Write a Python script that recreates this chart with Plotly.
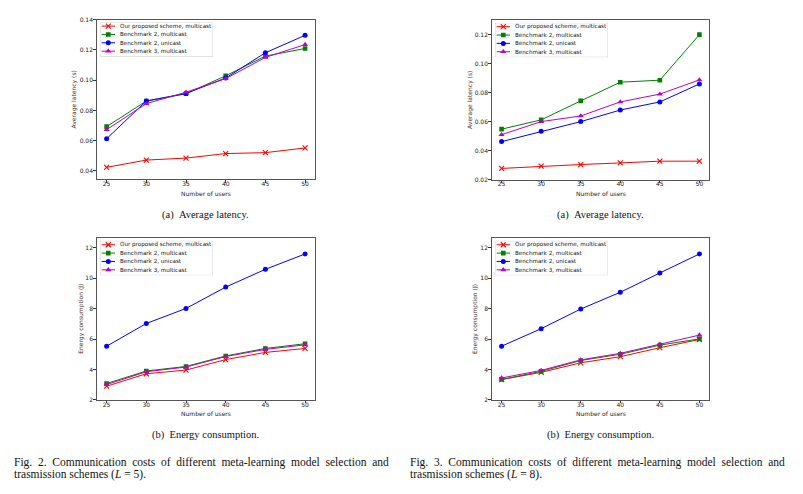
import plotly.graph_objects as go

W, H = 803, 494
OX, OY = 8.0, 8.0  # page body margin of the html output

users = [25, 30, 35, 40, 45, 50]
series_names = ["Our proposed scheme, multicast", "Benchmark 2, multicast",
                "Benchmark 2, unicast", "Benchmark 3, multicast"]

# Fig. 2 (L = 5)
lat5_proposed = [0.0424, 0.0472, 0.0485, 0.0515, 0.0521, 0.0552]
lat5_b2_multi = [0.0693, 0.0862, 0.0910, 0.1029, 0.1159, 0.1209]
lat5_b2_uni = [0.0613, 0.0862, 0.0912, 0.1014, 0.1181, 0.1296]
lat5_b3_multi = [0.0673, 0.0845, 0.0920, 0.1010, 0.1150, 0.1235]

en5_proposed = [2.90, 3.72, 3.96, 4.65, 5.12, 5.38]
en5_b2_multi = [3.08, 3.90, 4.20, 4.89, 5.38, 5.69]
en5_b2_uni = [5.53, 7.02, 8.01, 9.41, 10.58, 11.59]
en5_b3_multi = [3.01, 3.85, 4.16, 4.85, 5.32, 5.62]

# Fig. 3 (L = 8)
lat8_proposed = [0.0277, 0.0293, 0.0304, 0.0315, 0.0327, 0.0327]
lat8_b2_multi = [0.0548, 0.0612, 0.0743, 0.0872, 0.0886, 0.1200]
lat8_b2_uni = [0.0462, 0.0533, 0.0600, 0.0680, 0.0736, 0.0860]
lat8_b3_multi = [0.0510, 0.0600, 0.0639, 0.0736, 0.0790, 0.0888]

en8_proposed = [3.34, 3.81, 4.44, 4.84, 5.43, 5.97]
en8_b2_multi = [3.34, 3.875, 4.59, 5.00, 5.60, 6.01]
en8_b2_uni = [5.53, 6.68, 7.97, 9.07, 10.34, 11.59]
en8_b3_multi = [3.44, 3.94, 4.63, 5.06, 5.66, 6.26]

lat_ticks_5 = [0.04, 0.06, 0.08, 0.10, 0.12, 0.14]
lat_ticks_8 = [0.02, 0.04, 0.06, 0.08, 0.10, 0.12]
en_ticks = [2, 4, 6, 8, 10, 12]

colors = ["#ff0000", "#008000", "#0000ff", "#bf00bf"]
symbols = ["x-thin", "square", "circle", "triangle-up"]
msizes = [5, 4.6, 5, 5.4]

FONT = "DejaVu Sans"
SERIF = "Liberation Serif"


def fx(x):
    return (x - OX) / W


def fy(y):
    return 1 - (y - OY) / H


panels = [
    dict(data=[lat5_proposed, lat5_b2_multi, lat5_b2_uni, lat5_b3_multi],
         box=(96.7, 315.0, 15.7, 177.7), yr=[0.0345, 0.14], ticks=lat_ticks_5,
         fmt=".2f", ytitle="Average latency (s)", ytx=74.0),
    dict(data=[lat8_proposed, lat8_b2_multi, lat8_b2_uni, lat8_b3_multi],
         box=(491.7, 709.3, 16.3, 178.0), yr=[0.02, 0.13], ticks=lat_ticks_8,
         fmt=".2f", ytitle="Average latency (s)", ytx=470.0),
    dict(data=[en5_proposed, en5_b2_multi, en5_b2_uni, en5_b3_multi],
         box=(96.7, 315.0, 237.5, 401.5), yr=[2, 12.62], ticks=en_ticks,
         fmt="d", ytitle="Energy consumption (J)", ytx=80.7),
    dict(data=[en8_proposed, en8_b2_multi, en8_b2_uni, en8_b3_multi],
         box=(491.7, 709.3, 237.5, 401.5), yr=[2, 12.62], ticks=en_ticks,
         fmt="d", ytitle="Energy consumption (J)", ytx=475.0),
]

fig = go.Figure()
layout = dict(width=W, height=H, autosize=False,
              margin=dict(l=0, r=0, t=0, b=0),
              paper_bgcolor="white", plot_bgcolor="white",
              showlegend=False, font=dict(family=FONT, size=6, color="#222"))
annotations = []
shapes = []

LEG_W, LEG_H = 113.0, 35.0

for i, p in enumerate(panels):
    k = i + 1
    l, r, t, b = p["box"]
    xa = "xaxis" if k == 1 else f"xaxis{k}"
    ya = "yaxis" if k == 1 else f"yaxis{k}"
    xr = "x" if k == 1 else f"x{k}"
    yr = "y" if k == 1 else f"y{k}"
    layout[xa] = dict(domain=[fx(l), fx(r)], anchor=yr, range=[23.75, 51.25],
                      tickvals=users, ticks="outside", ticklen=2.5, tickwidth=0.8,
                      tickcolor="#333", showline=True, mirror=True, linecolor="#555",
                      linewidth=1, showgrid=False, zeroline=False,
                      ticklabelstandoff=-4,
                      tickfont=dict(family=FONT, size=6, color="#222"))
    layout[ya] = dict(domain=[fy(b), fy(t)], anchor=xr, range=p["yr"],
                      tickvals=p["ticks"], tickformat=p["fmt"], ticks="outside",
                      ticklen=2.5, tickwidth=0.8, tickcolor="#333", showline=True,
                      mirror=True, linecolor="#555", linewidth=1, showgrid=False,
                      zeroline=False, ticklabelstandoff=-1,
                      tickfont=dict(family=FONT, size=6, color="#222"))
    for j, ys in enumerate(p["data"]):
        fig.add_trace(go.Scatter(
            x=users, y=ys, xaxis=xr, yaxis=yr, mode="lines+markers",
            name=series_names[j],
            line=dict(color=colors[j], width=1),
            marker=dict(symbol=symbols[j], size=msizes[j], color=colors[j],
                        line=dict(color=colors[j], width=1.1 if j == 0 else 0))))
    # axis titles
    annotations.append(dict(text="Number of users", xref="paper", yref="paper",
                            x=fx((l + r) / 2), y=fy(b + 14.0),
                            xanchor="center", yanchor="middle", showarrow=False,
                            font=dict(family=FONT, size=6, color="#222")))
    annotations.append(dict(text=p["ytitle"], xref="paper", yref="paper",
                            x=fx(p["ytx"]), y=fy((t + b) / 2), textangle=-90,
                            xanchor="center", yanchor="middle", showarrow=False,
                            font=dict(family=FONT, size=6, color="#4d3322")))
    # legend drawn in an overlay axis covering the legend box
    lk = k + 4
    lxa, lya = f"xaxis{lk}", f"yaxis{lk}"
    lxr, lyr = f"x{lk}", f"y{lk}"
    bl, bt = l + 3.3, t + 2.6
    layout[lxa] = dict(domain=[fx(bl), fx(bl + LEG_W)], anchor=lyr,
                       range=[0, LEG_W], visible=False, fixedrange=True)
    layout[lya] = dict(domain=[fy(bt + LEG_H), fy(bt)], anchor=lxr,
                       range=[LEG_H, 0], visible=False, fixedrange=True)
    shapes.append(dict(type="rect", xref=lxr, yref=lyr, x0=0, x1=LEG_W,
                       y0=0, y1=LEG_H, line=dict(color="#d4d4d4", width=1),
                       fillcolor="white", layer="below"))
    for j in range(4):
        yy = 4.0 + 8.47 * j
        fig.add_trace(go.Scatter(x=[1.7, 15.0], y=[yy, yy], xaxis=lxr, yaxis=lyr,
                                 mode="lines", line=dict(color=colors[j], width=1),
                                 hoverinfo="skip"))
        fig.add_trace(go.Scatter(x=[8.3], y=[yy], xaxis=lxr, yaxis=lyr,
                                 mode="markers", hoverinfo="skip",
                                 marker=dict(symbol=symbols[j], size=msizes[j],
                                             color=colors[j],
                                             line=dict(color=colors[j],
                                                       width=1.1 if j == 0 else 0))))
        annotations.append(dict(text=series_names[j], xref=lxr, yref=lyr,
                                x=18.3, y=yy, xanchor="left", yanchor="middle",
                                showarrow=False,
                                font=dict(family=FONT, size=5.6, color="#111")))


# sub-figure and figure captions
def cap(text, x, y, anchor="center", size=11.5):
    annotations.append(dict(text=text, xref="paper", yref="paper", x=fx(x),
                            y=fy(y), xanchor=anchor, yanchor="middle",
                            showarrow=False,
                            font=dict(family=SERIF, size=size, color="#111")))


def justify(s):
    return " \u00a0".join(s.split(" "))


cap("(a) \u00a0Average latency.", 205, 213.5, size=10.5)
cap("(a) \u00a0Average latency.", 600, 213.5, size=10.5)
cap("(b) \u00a0Energy consumption.", 205, 437, size=10.5)
cap("(b) \u00a0Energy consumption.", 600, 437, size=10.5)
line1 = "Fig. 2. Communication costs of different meta-learning model selection and"
line1b = "Fig. 3. Communication costs of different meta-learning model selection and"
cap(justify(line1), 12, 464.5, "left")
cap("trasmission schemes (<i>L</i> = 5).", 12, 477.5, "left")
cap(justify(line1b), 408, 464.5, "left")
cap("trasmission schemes (<i>L</i> = 8).", 408, 477.5, "left")

layout["annotations"] = annotations
layout["shapes"] = shapes
fig.update_layout(**layout)
fig.write_html("out.html")
